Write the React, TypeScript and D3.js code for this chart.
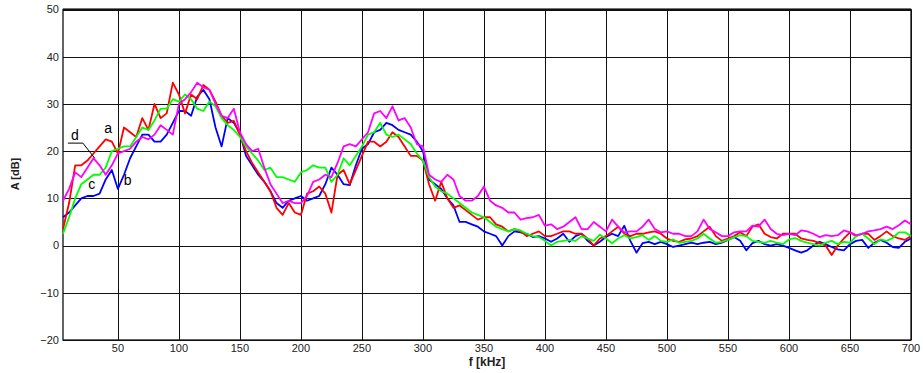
import React from 'react';
import * as d3 from 'd3';

// frequency grid of the traces: 5 kHz steps from 5 to 700 kHz
const fStart = 5;
const fStep = 5;

const seriesA = [
  3.5, 9, 17, 17, 18, 19.5, 21, 22.5, 22, 19.5, 25, 24, 23, 27, 24.5, 30, 27, 28, 34.5, 32,
  28, 32, 31, 34, 33, 30.5, 27.5, 26, 26.4, 23.4, 20, 17.5, 15.5, 13.5, 11.5, 8, 6.5, 9, 7, 6.5,
  11, 11.5, 12.5, 11, 7, 15, 16, 13, 16, 19, 22, 22, 21, 22, 24, 23, 21, 19, 19, 18,
  13, 9.5, 13.5, 10, 8, 8.5, 7.5, 6.5, 5.5, 6, 6, 4.5, 4, 3, 3.5, 3, 2, 2.5, 3, 2,
  2, 2.5, 3, 3, 2.5, 2.5, 1.5, 0, 1.5, 2, 3, 4, 2.5, 2, 2.5, 2.5, 2.8, 3, 2.5, 1.5,
  1, 0.8, 1.3, 1.5, 2, 3, 4, 2, 1, 1.5, 2, 2.8, 2, 4, 4.5, 2.5, 1.8, 1.5, 2.5, 2.5,
  2.5, 1.5, 1.2, 1, 0.5, 0, -2, 0, 1.5, 2.8, 2, 2.5, 2.5, 1.2, 2, 3, 2, 1.5, 1.2, 2,
];

const seriesB = [
  6, 7, 8.5, 10, 10.5, 10.5, 11, 14, 16, 12, 15, 18.5, 21, 23.5, 23.5, 22, 22, 23.5, 26, 28.5,
  28.5, 27.5, 31.5, 33, 31, 25, 21, 27, 26, 23.8, 19, 17, 15, 13.5, 11.5, 9, 8, 9.5, 10, 10.5,
  9.5, 10, 10.5, 13, 16.5, 15, 13, 12.8, 17, 20.5, 21.5, 24, 24.5, 26, 25.5, 24.5, 24, 23.5, 22, 20,
  14, 13, 12, 10, 8.5, 5, 5, 4.5, 4, 3, 2.5, 2, 0, 2, 3, 2.8, 2.5, 1.8, 2, 1.5,
  0.8, 1.5, 2.5, 0.8, 2, 2.5, 1, 0, 0.8, 1.8, 2.5, 2, 4.2, 1, -1.5, 0.5, 0.8, 0.3, 0.8, 0.3,
  -0.3, 0, 0.3, 0.6, 0.3, 0.6, 0.8, 0.3, 0.6, 1.2, 1.8, 1, -1, 0.5, 1, 0.3, 0, 0.3, 0, -0.5,
  -1, -1.5, -1, 0, 0.8, 0.3, -0.3, -0.8, -1, 0.3, 1, 1.2, -0.5, 0.6, 1.2, 0.6, -0.3, -0.5, 0.8, 1.5,
];

const seriesC = [
  2.5, 6, 10, 13, 14, 15, 15, 16.5, 20, 20.5, 21, 21, 23, 25, 24.5, 26.5, 29, 29, 31, 30.5,
  32, 31, 29, 28.5, 30.5, 29.5, 27, 25.5, 24.5, 23, 21, 19.5, 18, 16, 16.5, 14.5, 14.5, 14, 13.5, 15.5,
  16, 17, 16.5, 16.5, 13.5, 15, 18.5, 17, 19, 21, 23.5, 24, 26, 23.5, 23, 23.5, 22.5, 21.5, 19.5, 18,
  14.5, 12.5, 11.5, 11, 10, 9, 8, 7, 6.5, 6, 5, 4, 3.5, 3, 3.5, 3.2, 2.5, 2, 1.8, 1,
  0, 0.8, 1, 1.2, 1, 2, 1.5, 1, 2.3, 1.5, 0.5, 1.5, 2.2, 1.5, 1.8, 2.2, 1.2, 2, 1, 0.8,
  1.3, 0.6, 0.8, 1, 1.5, 2.5, 1.5, 0.6, 0.8, 1.2, 1.8, 2.2, 2, 1, 0.8, 0.6, 1, 0.6, 0.3, 1.3,
  1.6, 1, 0.6, 0.3, 0, 0.6, 1, 0.3, 0.8, 0.6, 2, 2.5, 1.5, 0.3, 1.3, 1, 1.6, 2.8, 2.8, 2,
];

const seriesD = [
  9.5, 12, 15.5, 14.5, 16.5, 18.5, 17, 15, 17, 19.5, 20, 20.5, 22, 23, 22.5, 23.5, 25.5, 24.5, 23.5, 30,
  31, 32.5, 34.5, 33.5, 33, 30, 27.5, 27, 29, 24, 21.5, 20, 20.5, 16.5, 13, 11, 9, 9.5, 9, 9,
  10.5, 13.5, 14, 15, 14.5, 17.5, 21, 21.5, 21, 22.5, 24, 28, 28.5, 27, 29.5, 26.5, 27, 25, 21.5, 21,
  15, 14, 13.5, 15, 14, 10.5, 9.5, 9.5, 10.5, 12.5, 9.5, 8.5, 8, 7, 7, 5.5, 5.8, 6, 6.5, 4.2,
  4.5, 3.5, 4, 5, 6, 3.5, 3.5, 5, 4, 3, 5.5, 4, 2.8, 3, 3, 4, 5.5, 3.5, 2.8, 3,
  2.5, 2.5, 2, 2, 3, 5.5, 3.5, 2.8, 2, 2, 2.8, 3, 3, 4.2, 4, 5.5, 3.5, 2.5, 2.2, 2.5,
  2.2, 3.2, 3, 2.5, 1.8, 2.2, 2, 2.2, 3.2, 2.8, 2.2, 2.5, 3, 3.2, 3.5, 4, 3.5, 4.3, 5.3, 4.5,
];

const xTicks = [50, 100, 150, 200, 250, 300, 350, 400, 450, 500, 550, 600, 650, 700];
const yTicks = [-20, -10, 0, 10, 20, 30, 40, 50];

// curve letters and the leader line of "d"
const labelText = ['a', 'b', 'c', 'd'];
const labelF = [42, 58, 28.6, 14.7];
const labelV = [24.9, 13.8, 13, 23.4];
const leaderF = [9, 21.3, 31];
const leaderV = [21.7, 21.7, 18.5];

const traces = [
  { values: seriesB, color: '#0000ff' },
  { values: seriesA, color: '#ff0000' },
  { values: seriesC, color: '#00ff00' },
  { values: seriesD, color: '#ff00ff' },
];

const W = 923;
const H = 373;
const plot = { left: 63, right: 911, top: 9.5, bottom: 340 };

export default function App() {
  const x = d3.scaleLinear().domain([5, 700]).range([plot.left, plot.right]);
  const y = d3.scaleLinear().domain([-20, 50]).range([plot.bottom, plot.top]);

  const line = d3.line<number>()
    .x((_, i) => x(fStart + i * fStep))
    .y(d => y(d));

  const leader = d3.line<number>()
    .x(d => x(d))
    .y((_, i) => y(leaderV[i]));

  const font = 'Arial, "Liberation Sans", sans-serif';

  return (
    <svg width={W} height={H} style={{ position: 'absolute', left: 0, top: 0, background: '#fff' }}
      fontFamily={font}>
      <rect width={W} height={H} fill="#fff" />
      {/* grid */}
      {xTicks.map(t => (
        <line key={'gx' + t} x1={Math.round(x(t)) + 0.5} x2={Math.round(x(t)) + 0.5}
          y1={plot.top} y2={plot.bottom} stroke="#111" strokeWidth={1} />
      ))}
      {yTicks.map(t => (
        <line key={'gy' + t} x1={plot.left} x2={plot.right}
          y1={Math.round(y(t)) + 0.5} y2={Math.round(y(t)) + 0.5} stroke="#111" strokeWidth={1} />
      ))}
      <rect x={plot.left} y={plot.top} width={plot.right - plot.left} height={plot.bottom - plot.top}
        fill="none" stroke="#111" strokeWidth={1.3} />
      <line x1={plot.left} x2={plot.right} y1={plot.top} y2={plot.top} stroke="#111" strokeWidth={2} />

      {/* traces */}
      {traces.map((s, i) => (
        <path key={i} d={line(s.values) || ''} fill="none" stroke={s.color}
          strokeWidth={1.8} strokeLinejoin="round" />
      ))}

      {/* labels on curves */}
      <path d={leader(leaderF) || ''} fill="none" stroke="#000" strokeWidth={1} />
      {labelText.map((t, i) => (
        <text key={t} x={x(labelF[i])} y={y(labelV[i])} dy="0.35em" textAnchor="middle"
          fontSize={14} fill="#000">{t}</text>
      ))}

      {/* y tick labels */}
      {yTicks.map(t => (
        <text key={'ty' + t} x={plot.left - 4} y={y(t)} dy="0.35em" textAnchor="end"
          fontSize={11} fill="#222">{t < 0 ? '\u2212' + Math.abs(t) : t}</text>
      ))}
      {/* x tick labels */}
      {xTicks.map(t => (
        <text key={'tx' + t} x={x(t)} y={352} textAnchor="middle" fontSize={11} fill="#222">{t}</text>
      ))}

      <text transform={`translate(19,174) rotate(-90)`} textAnchor="middle" fontSize={11}
        fontWeight="bold" fill="#222">A [dB]</text>
      <text x={487} y={366} textAnchor="middle" fontSize={12} fontWeight="bold" fill="#222">f [kHz]</text>
    </svg>
  );
}
